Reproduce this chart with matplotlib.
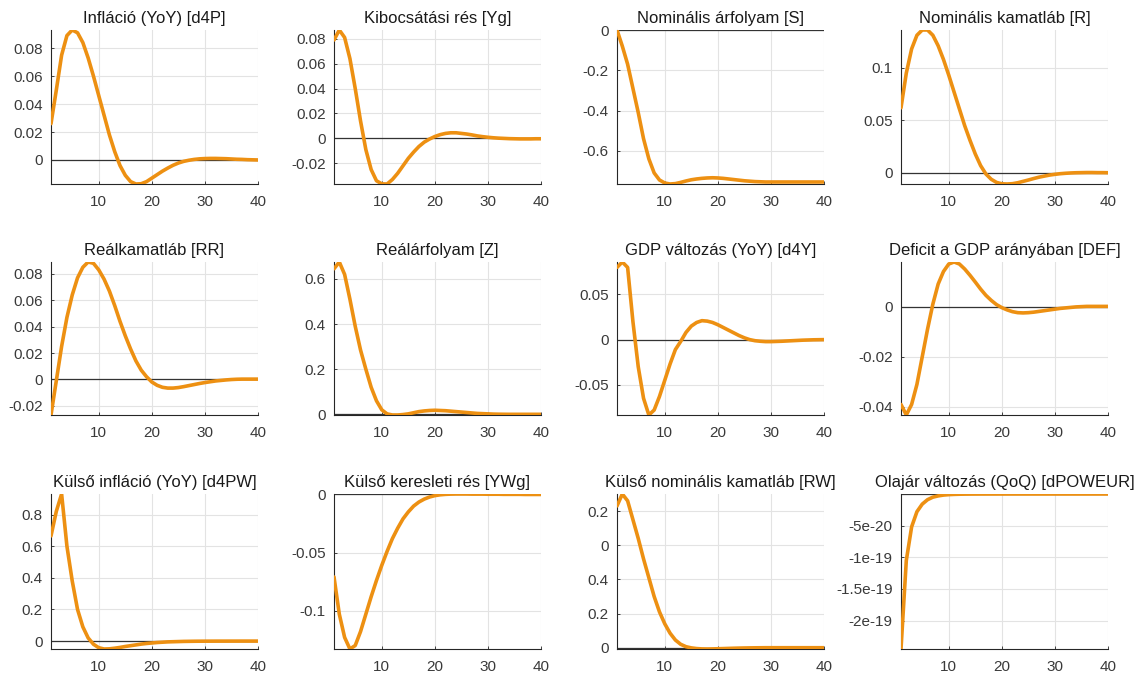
import matplotlib
matplotlib.use('Agg')
import matplotlib.pyplot as plt
from matplotlib.ticker import FormatStrFormatter, FixedFormatter

plt.rcParams['font.family'] = ['Liberation Sans', 'DejaVu Sans']

periods = list(range(1, 41))

d4p = [0.026, 0.05, 0.075, 0.089, 0.093, 0.091, 0.084, 0.073, 0.06, 0.046,
       0.032, 0.018, 0.006, -0.004, -0.011, -0.0155, -0.0172, -0.017, -0.0155, -0.013,
       -0.0105, -0.008, -0.0058, -0.0038, -0.0022, -0.001, -0.0002, 0.0004, 0.0008, 0.001,
       0.0011, 0.0011, 0.001, 0.0009, 0.0007, 0.0005, 0.0004, 0.0002, 0.0001, 0.0]
yg = [0.079, 0.087, 0.081, 0.064, 0.04, 0.014, -0.009, -0.025, -0.034, -0.0365,
      -0.0366, -0.033, -0.028, -0.022, -0.016, -0.011, -0.0065, -0.003, -0.0005, 0.0015,
      0.003, 0.004, 0.0045, 0.0045, 0.004, 0.0035, 0.0028, 0.002, 0.0014, 0.0009,
      0.0005, 0.0002, 0.0, -0.0002, -0.0003, -0.0004, -0.0004, -0.0004, -0.0003, -0.0003]
s = [0.0, -0.08, -0.17, -0.29, -0.41, -0.54, -0.64, -0.71, -0.745, -0.76,
     -0.765, -0.763, -0.757, -0.75, -0.744, -0.74, -0.737, -0.735, -0.734, -0.735,
     -0.737, -0.74, -0.743, -0.746, -0.749, -0.751, -0.753, -0.754, -0.755, -0.755,
     -0.755, -0.755, -0.755, -0.755, -0.755, -0.755, -0.755, -0.755, -0.755, -0.755]
r = [0.062, 0.095, 0.118, 0.131, 0.136, 0.136, 0.131, 0.121, 0.108, 0.093,
     0.077, 0.061, 0.045, 0.031, 0.018, 0.007, -0.001, -0.006, -0.009, -0.0103,
     -0.0105, -0.0102, -0.0093, -0.008, -0.0067, -0.0053, -0.004, -0.003, -0.002, -0.0013,
     -0.0007, -0.0003, 0.0, 0.0002, 0.0003, 0.0004, 0.0004, 0.0003, 0.0003, 0.0002]
rr = [-0.027, -0.001, 0.025, 0.047, 0.064, 0.077, 0.085, 0.089, 0.088, 0.083,
      0.076, 0.067, 0.056, 0.044, 0.033, 0.023, 0.014, 0.007, 0.002, -0.002,
      -0.0045, -0.006, -0.0066, -0.0066, -0.0062, -0.0055, -0.0047, -0.0039, -0.0031, -0.0024,
      -0.0018, -0.0012, -0.0008, -0.0004, -0.0001, 0.0001, 0.0002, 0.0002, 0.0002, 0.0002]
z = [0.645, 0.675, 0.62, 0.51, 0.39, 0.285, 0.2, 0.12, 0.06, 0.02,
     0.002, -0.003, -0.003, -0.001, 0.002, 0.007, 0.012, 0.015, 0.017, 0.018,
     0.017, 0.016, 0.014, 0.012, 0.01, 0.008, 0.006, 0.004, 0.003, 0.002,
     0.001, 0.0005, 0.0002, 0.0, 0.0, 0.0, 0.0, 0.0, 0.0, 0.0]
d4y = [0.08, 0.086, 0.08, 0.02, -0.03, -0.065, -0.0835, -0.078, -0.063, -0.045,
       -0.027, -0.011, -0.002, 0.008, 0.015, 0.019, 0.021, 0.0205, 0.019, 0.0165,
       0.0135, 0.0105, 0.0075, 0.0045, 0.002, 0.0, -0.0012, -0.0018, -0.0022, -0.0022,
       -0.002, -0.0018, -0.0015, -0.0012, -0.0009, -0.0006, -0.0004, -0.0002, -0.0001, 0.0]
deficit = [-0.039, -0.0432, -0.039, -0.031, -0.02, -0.009, 0.001, 0.009, 0.014, 0.017,
           0.0178, 0.017, 0.015, 0.0125, 0.0098, 0.007, 0.0045, 0.0025, 0.0008, -0.0004,
           -0.0013, -0.002, -0.0024, -0.0025, -0.0024, -0.0022, -0.0019, -0.0016, -0.0013, -0.001,
           -0.0007, -0.0005, -0.0003, -0.0001, 0.0, 0.0001, 0.0001, 0.0001, 0.0001, 0.0001]
d4pw = [0.665, 0.82, 0.93, 0.6, 0.38, 0.2, 0.09, 0.02, -0.02, -0.042,
        -0.05, -0.049, -0.045, -0.04, -0.034, -0.029, -0.024, -0.019, -0.015, -0.012,
        -0.009, -0.007, -0.005, -0.004, -0.003, -0.002, -0.0015, -0.001, -0.0007, -0.0005,
        -0.0004, -0.0003, -0.0002, -0.0002, -0.0001, -0.0001, 0.0, 0.0, 0.0, 0.0]
ywg = [-0.071, -0.103, -0.123, -0.133, -0.13, -0.118, -0.103, -0.088, -0.074, -0.061,
       -0.049, -0.038, -0.029, -0.021, -0.015, -0.01, -0.0065, -0.004, -0.0022, -0.001,
       -0.0003, 0.0001, 0.0003, 0.0004, 0.0004, 0.0004, 0.0003, 0.0003, 0.0003, 0.0002,
       0.0002, 0.0002, 0.0001, 0.0001, 0.0001, 0.0001, 0.0, 0.0, 0.0, 0.0]
rw = [0.83, 0.9, 0.86, 0.75, 0.64, 0.52, 0.41, 0.3, 0.21, 0.14,
      0.085, 0.045, 0.02, 0.006, -0.001, -0.005, -0.007, -0.0075, -0.007, -0.006,
      -0.005, -0.004, -0.003, -0.0022, -0.0015, -0.001, -0.0006, -0.0003, 0.0, 0.0,
      0.0, 0.0, 0.0, 0.0, 0.0, 0.0, 0.0, 0.0, 0.0, 0.0]
dpoweur = [-2.45e-19, -1.05e-19, -5.2e-20, -2.8e-20, -1.6e-20, -9e-21, -5e-21, -3e-21, -1.7e-21, -1e-21,
           -6e-22, -3.5e-22, -2e-22, -1.2e-22, -7e-23, -4e-23, -2.5e-23, -1.5e-23, -9e-24, -5e-24,
           -3e-24, -2e-24, -1e-24, -6e-25, -4e-25, -2e-25, -1e-25, -7e-26, -4e-26, -2e-26,
           -1e-26, -7e-27, -4e-27, -2e-27, -1e-27, -7e-28, -4e-28, -2e-28, -1e-28, -5e-29]

titles = ['Infláció (YoY) [d4P]', 'Kibocsátási rés [Yg]', 'Nominális árfolyam [S]',
          'Nominális kamatláb [R]', 'Reálkamatláb [RR]', 'Reálárfolyam [Z]',
          'GDP változás (YoY) [d4Y]', 'Deficit a GDP arányában [DEF]',
          'Külső infláció (YoY) [d4PW]', 'Külső keresleti rés [YWg]',
          'Külső nominális kamatláb [RW]', 'Olajár változás (QoQ) [dPOWEUR]']
series = [d4p, yg, s, r, rr, z, d4y, deficit, d4pw, ywg, rw, dpoweur]
yticks = [[0, 0.02, 0.04, 0.06, 0.08],
          [-0.02, 0, 0.02, 0.04, 0.06, 0.08],
          [-0.6, -0.4, -0.2, 0],
          [0, 0.05, 0.1],
          [-0.02, 0, 0.02, 0.04, 0.06, 0.08],
          [0, 0.2, 0.4, 0.6],
          [-0.05, 0, 0.05],
          [-0.04, -0.02, 0],
          [0, 0.2, 0.4, 0.6, 0.8],
          [-0.1, -0.05, 0],
          [0, 0.2, 0.4, 0.6, 0.8],
          [-2e-19, -1.5e-19, -1e-19, -5e-20]]
# labels as they appear in the source image for the RW panel
rw_ticklabels = ['0', '0.2', '0.4', '0', '0.2']
xticks = [10, 20, 30, 40]

line_color = '#ED9012'
axis_color = '#262626'
label_color = '#3a3a3a'

fig = plt.figure(figsize=(11.41, 6.77), dpi=100)
W, H = 1141, 677
col_left = [51, 334, 617, 901]
col_w = 207
row_top = [30, 262, 494]
row_h = [154, 153, 155]

for i, (title, y) in enumerate(zip(titles, series)):
    row, col = divmod(i, 4)
    ax = fig.add_axes([col_left[col] / W, 1 - (row_top[row] + row_h[row]) / H,
                       col_w / W, row_h[row] / H])
    ax.axhline(0, color='#333333', lw=0.9, zorder=2)
    ax.plot(periods, y, color=line_color, lw=2.6, zorder=3, solid_capstyle='round')
    ax.set_xlim(1, 40)
    ax.set_ylim(min(y), max(y))
    ax.set_xticks(xticks)
    ax.set_yticks(yticks[i])
    if i == 10:
        ax.yaxis.set_major_formatter(FixedFormatter(rw_ticklabels))
    else:
        ax.yaxis.set_major_formatter(FormatStrFormatter('%g'))
    ax.grid(True, color='#e3e3e3', lw=0.8)
    ax.set_axisbelow(True)
    ax.spines['top'].set_visible(False)
    ax.spines['right'].set_visible(False)
    ax.spines['left'].set_color(axis_color)
    ax.spines['bottom'].set_color(axis_color)
    ax.spines['left'].set_linewidth(0.8)
    ax.spines['bottom'].set_linewidth(0.8)
    ax.tick_params(direction='in', length=2.5, width=0.6, labelsize=11,
                   color=axis_color, labelcolor=label_color)
    ax.tick_params(axis='x', pad=8)
    ax.tick_params(axis='y', pad=6)
    ax.set_title(title, fontsize=12, color='#1a1a1a', pad=5)

fig.savefig('out.png', dpi=100)
